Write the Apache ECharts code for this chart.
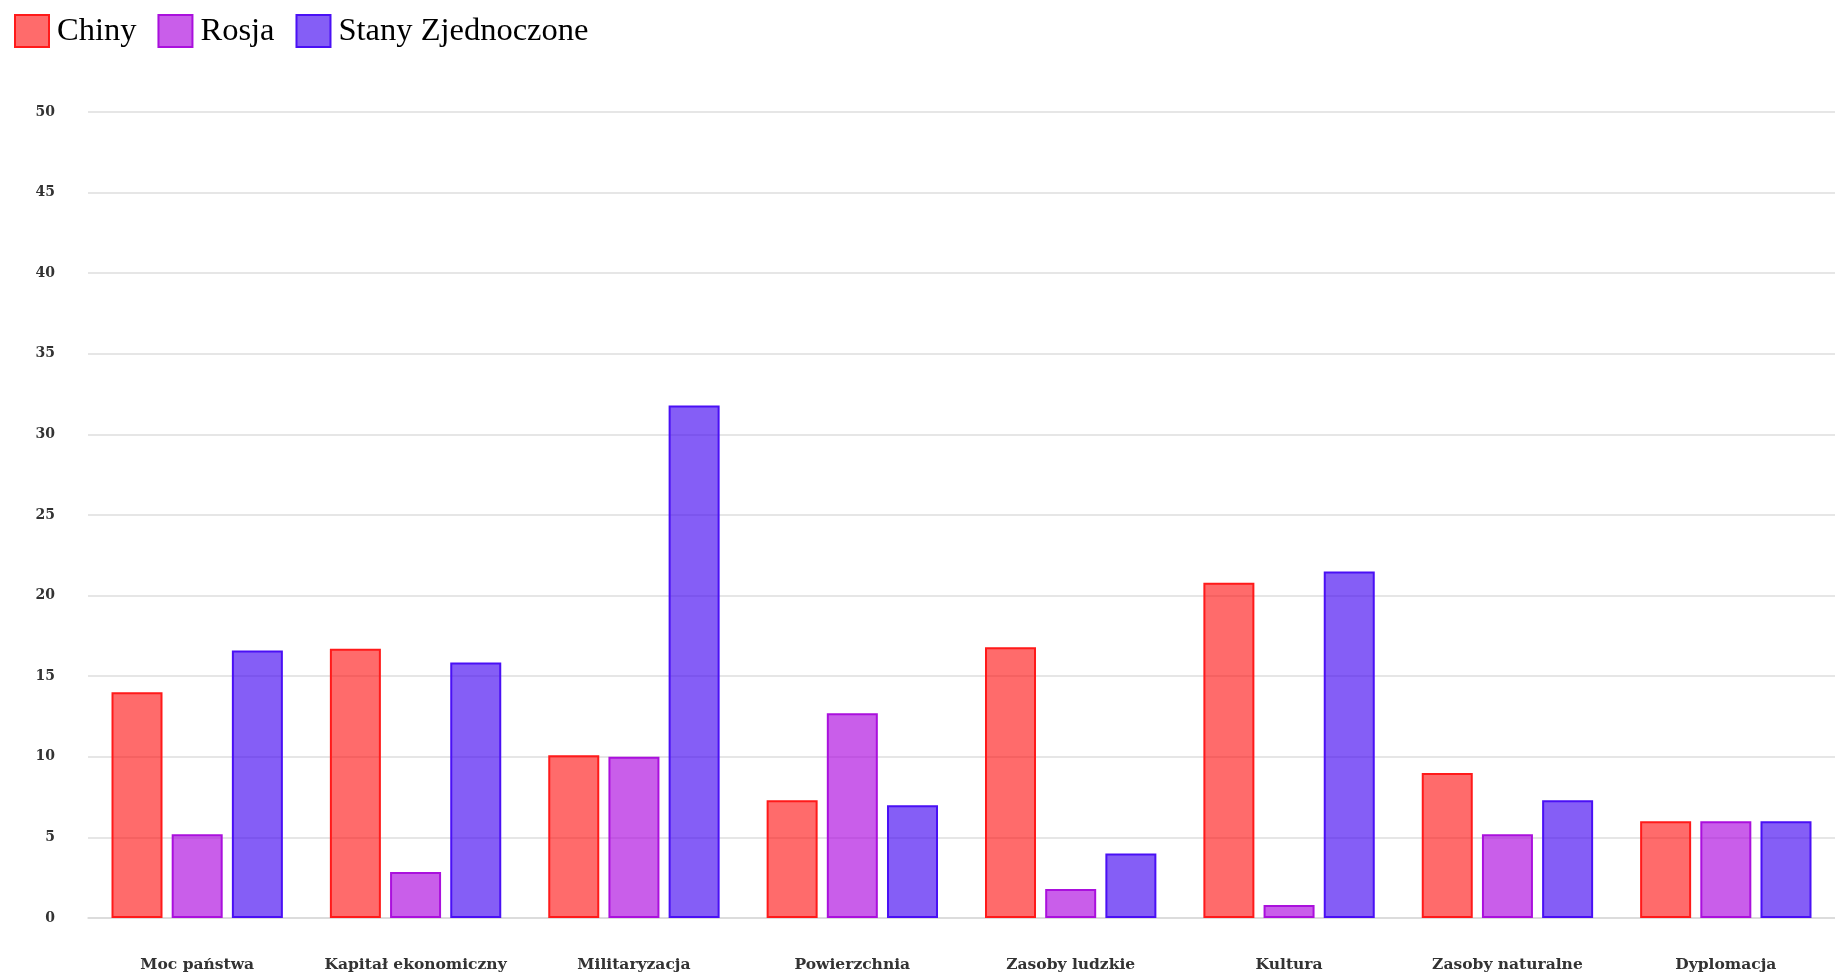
<!DOCTYPE html>
<html>
<head>
<meta charset="utf-8">
<title>Chiny, Rosja, Stany Zjednoczone</title>
<script src="https://cdn.jsdelivr.net/npm/echarts@6/dist/echarts.min.js"></script>
<style>
  html, body { margin: 0; padding: 0; background: #ffffff; }
  #chart { width: 1835px; height: 974px; }
</style>
</head>
<body>
<div id="chart"></div>
<script>
// Kategorie i wartości dla poszczególnych państw
const categories = ['Moc państwa', 'Kapitał ekonomiczny', 'Militaryzacja', 'Powierzchnia',
  'Zasoby ludzkie', 'Kultura', 'Zasoby naturalne', 'Dyplomacja'];
const chiny = [14.0, 16.7, 10.1, 7.3, 16.8, 20.8, 9.0, 6.0];
const rosja = [5.2, 2.85, 10.0, 12.7, 1.8, 0.8, 5.2, 6.0];
const stany = [16.6, 15.85, 31.8, 7.0, 4.0, 21.5, 7.3, 6.0];
const yTicks = [0, 5, 10, 15, 20, 25, 30, 35, 40, 45, 50];

const serif = '"Liberation Serif", "DejaVu Serif", serif';
const axisFont = '"DejaVu Serif", "Liberation Serif", serif';

function barSeries(name, data, fill, border) {
  return {
    name: name,
    type: 'bar',
    data: data,
    barWidth: 51,
    barGap: '18%',
    itemStyle: { color: fill, borderColor: border, borderWidth: 2 }
  };
}

const chart = echarts.init(document.getElementById('chart'), null, { renderer: 'canvas' });
chart.setOption({
  animation: false,
  backgroundColor: '#ffffff',
  legend: {
    left: 14,
    top: 14,
    padding: 0,
    itemWidth: 34,
    itemHeight: 32,
    itemGap: 21,
    icon: 'rect',
    textStyle: { fontFamily: serif, fontSize: 32.5, color: '#000000', padding: [4, 0, 0, 3] }
  },
  grid: { left: 88, right: 0, top: 112, bottom: 56 },
  xAxis: {
    type: 'category',
    data: categories,
    axisLine: { show: true, lineStyle: { color: '#d9d9d9', width: 1.5 } },
    axisTick: { show: false },
    axisLabel: {
      margin: 39,
      fontFamily: axisFont,
      fontWeight: 'bold',
      fontSize: 15.5,
      color: '#333333',
      interval: 0
    }
  },
  yAxis: {
    type: 'value',
    min: yTicks[0],
    max: yTicks[yTicks.length - 1],
    interval: yTicks[1] - yTicks[0],
    axisLine: { show: false },
    axisTick: { show: false },
    splitLine: { lineStyle: { color: '#dedede', width: 1.5 } },
    axisLabel: {
      margin: 33,
      fontFamily: axisFont,
      fontWeight: 'bold',
      fontSize: 14,
      color: '#333333'
    }
  },
  series: [
    barSeries('Chiny', chiny, 'rgba(255, 0, 0, 0.58)', '#ff1a1a'),
    barSeries('Rosja', rosja, 'rgba(170, 0, 221, 0.63)', '#aa10dd'),
    barSeries('Stany Zjednoczone', stany, 'rgba(62, 0, 240, 0.63)', '#4a10f5')
  ]
});
</script>
</body>
</html>
